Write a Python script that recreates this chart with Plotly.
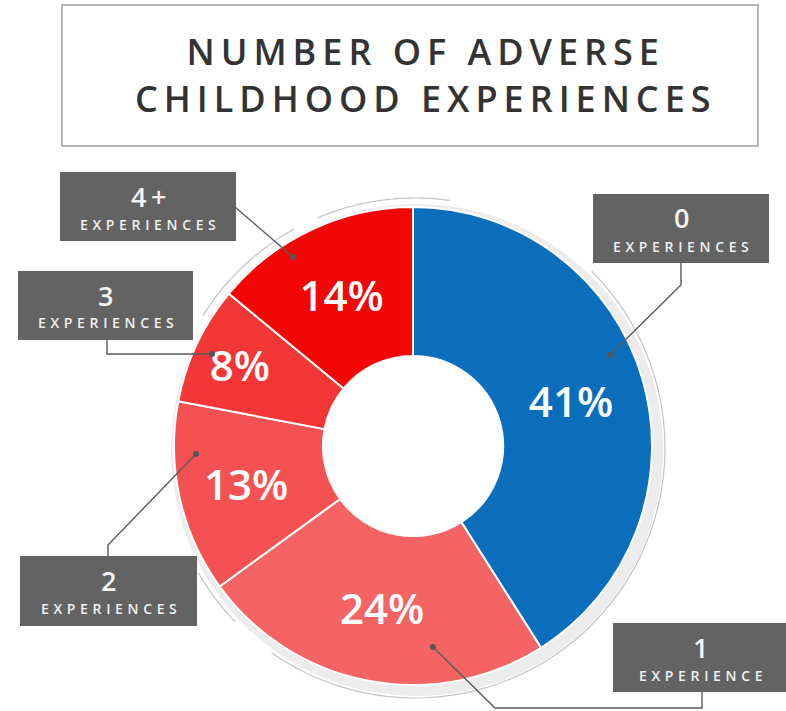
import numpy as np
import plotly.graph_objects as go

# ---------------- data ----------------
categories = ["0", "1", "2", "3", "4+"]
sublabels = ["EXPERIENCES", "EXPERIENCE", "EXPERIENCES", "EXPERIENCES", "EXPERIENCES"]
values = [41, 24, 13, 8, 14]
colors = ["#0a6ebd", "#f46464", "#f45252", "#f33636", "#f20606"]
title_lines = ["NUMBER OF ADVERSE", "CHILDHOOD EXPERIENCES"]

# ---------------- layout helpers ----------------
W, H = 786, 711
CX, CY, R = 413, 446, 239
HOLE = 0.377


def px(x):
    return x / W


def py(y):
    return 1 - y / H


def spaced(s, sp="\u2009"):
    return sp.join(list(s))


fig = go.Figure()

fig.add_trace(go.Pie(
    labels=categories,
    values=values,
    sort=False,
    direction="clockwise",
    rotation=0,
    hole=HOLE,
    marker=dict(colors=colors, line=dict(color="white", width=2)),
    texttemplate="%{value}%",
    textposition="inside",
    insidetextorientation="horizontal",
    textfont=dict(family="Open Sans, sans-serif", size=42, color="white", weight=600),
    domain=dict(x=[px(CX - R), px(CX + R)], y=[py(CY + R), py(CY - R)]),
    showlegend=False,
    hoverinfo="label+percent",
))

shapes = []
annotations = []

# title box
shapes.append(dict(type="rect", xref="paper", yref="paper",
                   x0=px(62), x1=px(758), y0=py(146), y1=py(5),
                   line=dict(color="#a0a0a0", width=1.5), fillcolor="white", layer="below"))
annotations.append(dict(xref="paper", yref="paper", x=px(423), y=py(75),
                        text="<br>".join(spaced(l) for l in title_lines), showarrow=False,
                        xanchor="center", yanchor="middle", align="center",
                        font=dict(family="Open Sans, sans-serif", size=36, color="#333333",
                                  weight=600)))

# halo behind pie
hx, hy, hr = 417, 450, 246
shapes.append(dict(type="circle", xref="paper", yref="paper",
                   x0=px(hx - hr), x1=px(hx + hr), y0=py(hy + hr), y1=py(hy - hr),
                   fillcolor="#ececec", line=dict(width=0), layer="below"))
# white centre seen through the donut hole
hr2 = R * HOLE + 2
shapes.append(dict(type="circle", xref="paper", yref="paper",
                   x0=px(CX - hr2), x1=px(CX + hr2), y0=py(CY + hr2), y1=py(CY - hr2),
                   fillcolor="white", line=dict(width=0), layer="below"))


def arc_path(a0, a1, r, cx=CX, cy=CY, n=60):
    a = np.radians(np.linspace(a0, a1, n))
    xs = cx + r * np.sin(a)
    ys = cy - r * np.cos(a)
    pts = [f"{px(x):.5f},{py(y):.5f}" for x, y in zip(xs, ys)]
    return "M " + " L ".join(pts)


for a0, a1 in [(-58, -29), (-23, 8), (45, 215), (226, 240)]:
    shapes.append(dict(type="path", xref="paper", yref="paper",
                       path=arc_path(a0, a1, 250, cx=415, cy=448),
                       line=dict(color="#c4c4c4", width=1.2), layer="below"))

# callout boxes: (x0, y0, x1, y1) in pixels, per category
boxes = {
    "0": (593, 194, 769, 263),
    "1": (613, 623, 787, 692),
    "2": (20, 556, 197, 626),
    "3": (18, 271, 193, 340),
    "4+": (60, 172, 236, 241),
}
# connector paths in pixels (decoration), ending on a dot inside the slice
connectors = {
    "0": [(681, 263), (681, 285), (610, 355)],
    "1": [(702, 692), (702, 708), (495, 708), (433, 647)],
    "2": [(108, 556), (108, 545), (196, 454)],
    "3": [(107, 340), (107, 354), (212, 354)],
    "4+": [(235, 207), (293, 257)],
}

for cat, sub in zip(categories, sublabels):
    x0, y0, x1, y1 = boxes[cat]
    shapes.append(dict(type="rect", xref="paper", yref="paper",
                       x0=px(x0), x1=px(x1), y0=py(y1), y1=py(y0),
                       fillcolor="#636363", line=dict(width=0), layer="above"))
    xc = (x0 + x1) / 2
    annotations.append(dict(xref="paper", yref="paper", x=px(xc), y=py(y0 + 24),
                            text=spaced(cat), showarrow=False, xanchor="center", yanchor="middle",
                            font=dict(family="Open Sans, sans-serif", size=27, color="#f4f4f4",
                                      weight=600)))
    annotations.append(dict(xref="paper", yref="paper", x=px(xc), y=py(y0 + 52),
                            text=spaced(sub, "\u2009\u2009"), showarrow=False,
                            xanchor="center", yanchor="middle",
                            font=dict(family="Open Sans, sans-serif", size=14, color="#f0f0f0",
                                      weight=600)))
    pts = connectors[cat]
    path = "M " + " L ".join(f"{px(x):.5f},{py(y):.5f}" for x, y in pts)
    shapes.append(dict(type="path", xref="paper", yref="paper", path=path,
                       line=dict(color="#5a5a5a", width=1.4), layer="above"))
    dx, dy = pts[-1]
    shapes.append(dict(type="circle", xref="paper", yref="paper",
                       x0=px(dx - 3), x1=px(dx + 3), y0=py(dy + 3), y1=py(dy - 3),
                       fillcolor="#555555", line=dict(width=0), layer="above"))

fig.update_layout(
    width=W, height=H, autosize=False,
    margin=dict(l=0, r=0, t=0, b=0),
    paper_bgcolor="white", plot_bgcolor="white",
    shapes=shapes, annotations=annotations,
)

fig.write_html("out.html")
